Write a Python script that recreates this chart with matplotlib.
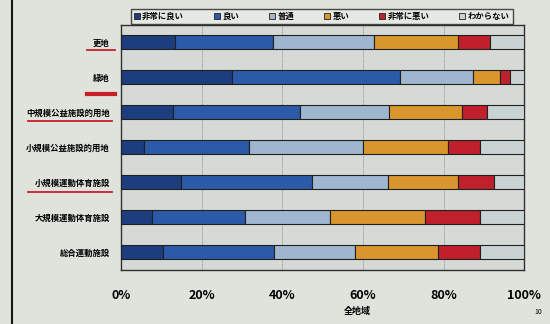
import numpy as np
import matplotlib.pyplot as plt
from matplotlib.lines import Line2D

plt.rcParams['font.family'] = ['Noto Sans CJK JP', 'DejaVu Sans']

categories = ['更地', '緑地', '中規模公益施設的用地', '小規模公益施設的用地',
              '小規模運動体育施設', '大規模運動体育施設', '総合運動施設']
answers = ['非常に良い', '良い', '普通', '悪い', '非常に悪い', 'わからない']
colors = ['#1c3d7e', '#2b5ba8', '#9fb6cf', '#d8962c', '#c0202c', '#c9d3d4']

# percent per answer, one list per answer, in category order
very_good = [13.4, 27.5, 12.8, 5.7, 14.8, 7.6, 10.3]
good = [24.2, 41.7, 31.6, 26.1, 32.7, 23.2, 27.6]
normal = [25.2, 18.0, 22.0, 28.2, 18.7, 21.1, 20.2]
bad = [20.7, 6.8, 18.1, 21.2, 17.5, 23.5, 20.5]
very_bad = [8.1, 2.4, 6.2, 7.9, 8.7, 13.7, 10.5]
unknown = [8.4, 3.6, 9.3, 10.9, 7.6, 10.9, 10.9]
series = [very_good, good, normal, bad, very_bad, unknown]

xticks = [0, 20, 40, 60, 80, 100]
underlined = [0, 1, 2, 4]

paper = '#dfe3dc'
fig = plt.figure(figsize=(5.5, 3.24), dpi=100, facecolor=paper)
ax = fig.add_axes([0.22, 0.167, 0.733, 0.756])
ax.set_facecolor('#d6dad7')

y = np.arange(len(categories))
left = np.zeros(len(categories))
for vals, col, name in zip(series, colors, answers):
    ax.barh(y, vals, left=left, height=0.4, color=col, edgecolor='#202020',
            linewidth=0.8, label=name, zorder=3)
    left += np.array(vals)

ax.set_xlim(0, 100)
ax.set_ylim(len(categories) - 0.5, -0.5)
ax.set_xticks(xticks)
ax.set_xticklabels([f'{t}%' for t in xticks], fontsize=9, fontweight='bold')
ax.tick_params(axis='x', length=0, pad=14)
ax.set_yticks(y)
ax.set_yticklabels(categories, fontsize=6, fontweight='bold')
ax.tick_params(axis='y', length=0, pad=8)
ax.xaxis.grid(True, color='#9a9a9a', linewidth=0.6, linestyle=(0, (2, 1)), zorder=0)
for s in ax.spines.values():
    s.set_color('#303030')
    s.set_linewidth(1.0)

handles = [plt.Rectangle((0, 0), 1, 1, facecolor=c, edgecolor='#202020', linewidth=0.6)
           for c in colors]
leg = fig.legend(handles, answers, loc='center', bbox_to_anchor=(0.585, 0.95),
                 ncol=6, frameon=True, fancybox=False,
                 handlelength=0.7, handleheight=0.7, handletextpad=0.3,
                 columnspacing=3.6, borderpad=0.35, prop={'weight': 'bold', 'size': 6})
leg.get_frame().set_edgecolor('#202020')
leg.get_frame().set_facecolor('#e8ebe6')
leg.get_frame().set_linewidth(1.0)

fig.text(357 / 550, 1 - 311 / 324, '全地域', fontsize=6.5, fontweight='bold',
         ha='center', va='center')
fig.text(538 / 550, 1 - 312 / 324, '10', fontsize=5, ha='center', va='center')

# hand-drawn red underlines and the page border line
uy = {0: 50, 1: 94, 2: 121, 4: 192}
ux = {0: (87, 115), 1: (87, 115), 2: (28, 112), 4: (28, 112)}
for i in underlined:
    x0, x1 = ux[i]
    lw = 3 if i == 1 else 1.3
    fig.add_artist(Line2D([x0 / 550, x1 / 550], [1 - uy[i] / 324] * 2,
                          color='#c8202a', linewidth=lw))
fig.add_artist(Line2D([12 / 550, 12 / 550], [0, 1], color='#151515', linewidth=1.5))

fig.savefig('out.png', dpi=100, facecolor=paper)
